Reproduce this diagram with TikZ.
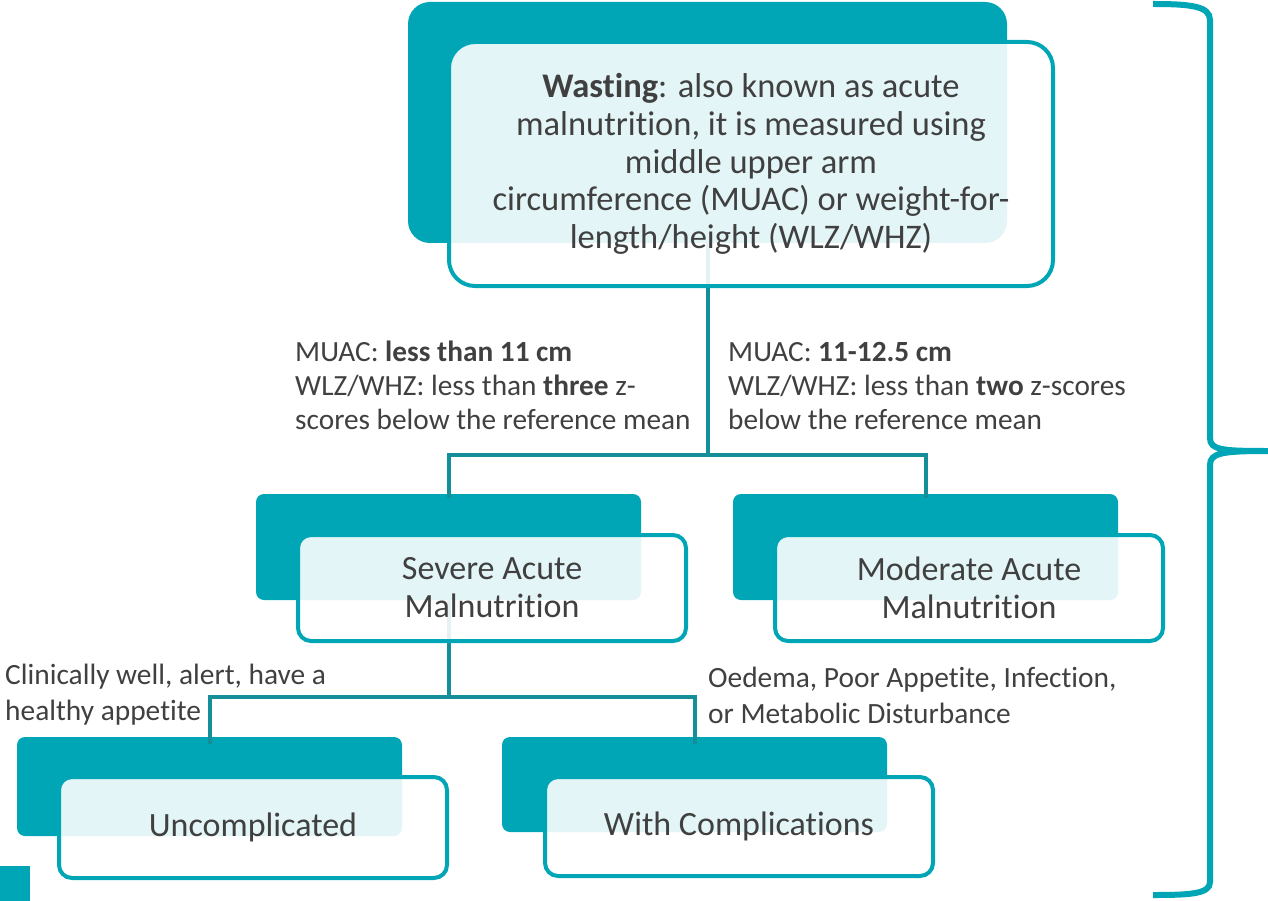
\documentclass[tikz,border=0pt]{standalone}
\usepackage{fontspec}
\setmainfont{Carlito}[Ligatures=CommonOff]
\usepackage{xcolor}
\usepackage{tikz}
\definecolor{teal}{RGB}{0,166,181}
\definecolor{linkteal}{RGB}{20,142,153}
\definecolor{textgray}{RGB}{64,64,64}

\begin{document}
\begin{tikzpicture}[
    x=1pt, y=-1pt,
    backbox/.style={rectangle, rounded corners=8pt, fill=teal, minimum width=385pt, inner sep=0pt},
    frontbox/.style={rectangle, rounded corners=13pt, draw=teal, line width=4pt, fill=white, fill opacity=0.89, text opacity=1, text=textgray, minimum width=388pt, inner sep=0pt, align=center, font=\fontsize{34}{38}\selectfont},
    link/.style={draw=linkteal, line width=4pt},
    note/.style={anchor=base west, inner sep=0pt, align=left, text=textgray}
]
\useasboundingbox (0,0) rectangle (1268,901);

\node[backbox, rounded corners=22pt, minimum width=599pt, minimum height=241pt] (wastingback) at (707.5,122.5) {};
\node[backbox, minimum height=106pt] (samback) at (448.5,547) {};
\node[backbox, minimum height=106pt] (mamback) at (925.5,547) {};
\node[backbox, minimum height=99pt] (uncback) at (209.5,786.5) {};
\node[backbox, minimum height=95pt] (compback) at (694.5,784.5) {};

\coordinate (fork1) at (wastingback.south |- 0,455);
\coordinate (fork2) at (samback.south |- 0,697);
\draw[link] (wastingback.south) -- (fork1);
\draw[link] (fork1) -| ([yshift=-4pt]samback.north);
\draw[link] (fork1) -| ([yshift=-4pt]mamback.north);
\draw[link] (samback.south) -- (fork2);
\draw[link] (fork2) -| ([yshift=-7pt]uncback.north);
\draw[link] (fork2) -| ([yshift=-7pt]compback.north);

\node[frontbox, rounded corners=26pt, minimum width=604pt, minimum height=244pt, font=\fontsize{34.5}{37.8}\selectfont] (wasting) at (751,164)
    {\textbf{Wasting}: also known as acute\\ malnutrition, it is measured using\\ middle upper arm\\ circumference (MUAC) or weight-for-\\ length/height (WLZ/WHZ)};
\node[frontbox, minimum height=106pt] (sam) at (492,588) {Severe Acute\\Malnutrition};
\node[frontbox, minimum height=106pt] (mam) at (969,588) {Moderate Acute\\Malnutrition};
\node[frontbox, minimum height=101pt] (unc) at (253,827.5) {Uncomplicated};
\node[frontbox, minimum height=99pt] (comp) at (739,826.5) {With Complications};

\node[note, font=\fontsize{29.3}{34}\selectfont] (samnote) at (295,429)
    {MUAC: \textbf{less than 11 cm}\\ WLZ/WHZ: less than \textbf{three} z-\\ scores below the reference mean};
\node[note, font=\fontsize{29.3}{34}\selectfont] (mamnote) at (728,429)
    {MUAC: \textbf{11-12.5 cm}\\ WLZ/WHZ: less than \textbf{two} z-scores\\ below the reference mean};
\node[note, font=\fontsize{29.4}{36}\selectfont] (uncnote) at (5,720)
    {Clinically well, alert, have a\\ healthy appetite};
\node[note, font=\fontsize{29.4}{36}\selectfont] (compnote) at (708,723)
    {Oedema, Poor Appetite, Infection,\\ or Metabolic Disturbance};

\fill[teal] (0,866) rectangle (30,901);
\draw[teal, line width=6pt] (1153,4) .. controls (1190,4) and (1210,6) .. (1210,20) -- (1210,438)
    .. controls (1210,450) and (1222,451) .. (1268,451)
    .. controls (1222,451) and (1210,453) .. (1210,465) -- (1210,882)
    .. controls (1210,894) and (1190,895) .. (1153,895);

\end{tikzpicture}
\end{document}
